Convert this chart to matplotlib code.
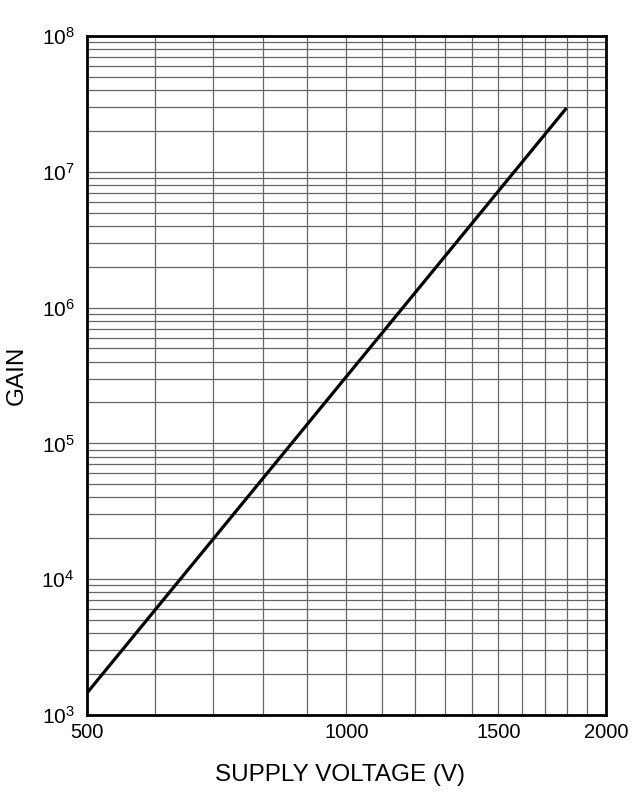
import numpy as np
import matplotlib
matplotlib.use('Agg')
import matplotlib.pyplot as plt
from matplotlib.ticker import FixedLocator, NullFormatter

plt.rcParams['font.family'] = ['Liberation Sans', 'DejaVu Sans']
plt.rcParams['mathtext.fontset'] = 'custom'
plt.rcParams['mathtext.rm'] = 'Liberation Sans'
plt.rcParams['mathtext.it'] = 'Liberation Sans'

# gain curve (straight on log-log)
voltage = [500, 1800]
gain = [1.45e3, 2.95e7]

x_ticks = [500, 1000, 1500, 2000]
x_labels = ['500', '1000', '1500', '2000']
y_ticks = [1e3, 1e4, 1e5, 1e6, 1e7, 1e8]
y_labels = ['$10^{3}$', '$10^{4}$', '$10^{5}$', '$10^{6}$', '$10^{7}$', '$10^{8}$']

fig = plt.figure(figsize=(6.44, 7.96), dpi=100)
ax = fig.add_axes([0.135, 0.1018, 0.806, 0.853])

ax.plot(voltage, gain, color='black', linewidth=2.3, solid_capstyle='butt')

ax.set_xscale('log')
ax.set_yscale('log')
ax.set_xlim(500, 2000)
ax.set_ylim(1e3, 1e8)

# grid: every 100 V and every 1..9 per decade
ax.xaxis.set_major_locator(FixedLocator(x_ticks))
ax.xaxis.set_minor_locator(FixedLocator(np.arange(600, 2000, 100)))
ax.xaxis.set_minor_formatter(NullFormatter())
ax.set_xticklabels(x_labels)
ax.yaxis.set_major_locator(FixedLocator(y_ticks))
minor_y = [m * 10.0**d for d in range(3, 8) for m in range(2, 10)]
ax.yaxis.set_minor_locator(FixedLocator(minor_y))
ax.yaxis.set_minor_formatter(NullFormatter())
ax.set_yticklabels(y_labels)

ax.grid(True, which='both', color='0.4', linewidth=0.9)
ax.tick_params(which='both', length=0, labelsize=14.5)
ax.tick_params(axis='x', pad=6)
ax.tick_params(axis='y', labelsize=15, pad=9)

for s in ax.spines.values():
    s.set_linewidth(2.0)

ax.set_xlabel('SUPPLY VOLTAGE (V)', fontsize=17.5, labelpad=14)
ax.xaxis.set_label_coords(0.488, -0.072)
ax.set_ylabel('GAIN', fontsize=17.5, labelpad=10)

fig.savefig('out.png', dpi=100)
